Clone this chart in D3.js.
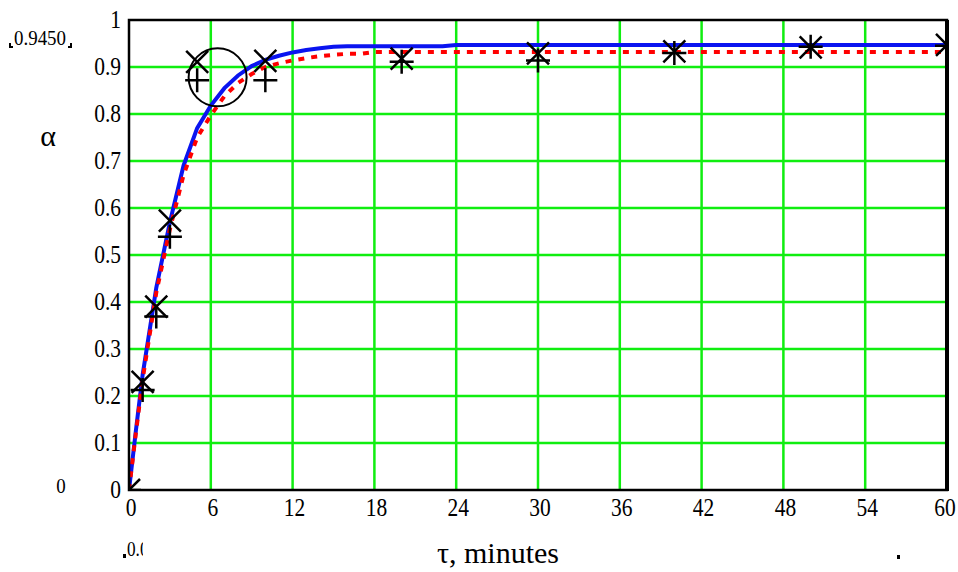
<!DOCTYPE html>
<html>
<head>
<meta charset="utf-8">
<script src="https://cdn.jsdelivr.net/npm/d3@7"></script>
<style>
  body { margin: 0; background: #fff; }
  svg { display: block; }
  text { font-family: "Liberation Serif", "DejaVu Serif", serif; fill: #000; }
</style>
</head>
<body>
<svg id="chart" width="958" height="572"></svg>
<script>
// tick labels
var tTicks = [0, 6, 12, 18, 24, 30, 36, 42, 48, 54, 60];
var alphaTicks = [0, 0.1, 0.2, 0.3, 0.4, 0.5, 0.6, 0.7, 0.8, 0.9, 1];

// calculated curves
var curveT     = [0, 0.5, 1, 2, 3, 4, 5, 6, 7, 8, 9, 10, 11, 12, 13, 14, 15, 16, 17, 18, 20, 22, 23, 24, 30, 40, 50, 60];
var curveBlue  = [0, 0.125, 0.245, 0.43, 0.57, 0.69, 0.77, 0.818, 0.855, 0.882, 0.902, 0.915, 0.924, 0.931, 0.936, 0.940, 0.943, 0.944, 0.944, 0.944, 0.944, 0.944, 0.944, 0.947, 0.947, 0.947, 0.947, 0.947];
var curveRed   = [0, 0.12, 0.235, 0.42, 0.555, 0.67, 0.75, 0.797, 0.838, 0.866, 0.885, 0.9, 0.908, 0.914, 0.919, 0.923, 0.926, 0.928, 0.928, 0.932, 0.932, 0.932, 0.932, 0.932, 0.932, 0.932, 0.932, 0.932];

// experimental points
var expT       = [0, 1, 2, 3, 5, 10, 20, 30, 40, 50, 60];
var expCross   = [0, 0.23, 0.39, 0.573, 0.911, 0.913, 0.918, 0.929, 0.933, 0.942, 0.947];
var expPlus    = [0, 0.213, 0.369, 0.539, 0.872, 0.872, 0.911, 0.914, 0.930, 0.943, 0.945];

// circled point
var circleT = [6.5];
var circleA = [0.878];

var svg = d3.select("#chart");
var x = d3.scaleLinear().domain([0, 60]).range([129, 947]);
var y = d3.scaleLinear().domain([0, 1]).range([490, 20]);

function label(txt, px, py, size, anchor, sx, parent) {
  return (parent || svg).append("text")
    .attr("transform", "translate(" + px + "," + py + ") scale(" + (sx || 0.86) + ",1)")
    .attr("text-anchor", anchor || "middle")
    .style("font-size", size + "px")
    .text(txt);
}

var defs = svg.append("defs");
defs.append("clipPath").attr("id", "plotclip")
  .append("rect").attr("x", 129).attr("y", 20).attr("width", 818).attr("height", 470);
defs.append("clipPath").attr("id", "lowclip")
  .append("rect").attr("x", 120).attr("y", 530).attr("width", 23).attr("height", 40);

// grid
var grid = svg.append("g");
grid.selectAll("line.v").data(tTicks.slice(1, -1)).enter().append("line")
  .attr("x1", function(d) { return x(d); }).attr("x2", function(d) { return x(d); })
  .attr("y1", y(0)).attr("y2", y(1))
  .attr("stroke", "#10ee10").attr("stroke-width", 2.5);
grid.selectAll("line.h").data(alphaTicks.slice(1, -1)).enter().append("line")
  .attr("y1", function(d) { return y(d); }).attr("y2", function(d) { return y(d); })
  .attr("x1", x(0)).attr("x2", x(60))
  .attr("stroke", "#10ee10").attr("stroke-width", 2.5);

var plot = svg.append("g").attr("clip-path", "url(#plotclip)");

var line = d3.line().x(function(d) { return x(d[0]); }).y(function(d) { return y(d[1]); });

plot.append("path")
  .attr("d", line(curveT.map(function(t, i) { return [t, curveBlue[i]]; })))
  .attr("fill", "none").attr("stroke", "#0a14f0").attr("stroke-width", 4);

plot.append("path")
  .attr("d", line(curveT.map(function(t, i) { return [t, curveRed[i]]; })))
  .attr("fill", "none").attr("stroke", "#ff0000").attr("stroke-width", 4)
  .attr("stroke-dasharray", "6,7");

// markers
var m = 11;
expT.forEach(function(t, i) {
  var cx = x(t), cy = y(expCross[i]);
  plot.append("path")
    .attr("d", "M" + (cx - m) + "," + (cy - m) + "L" + (cx + m) + "," + (cy + m) +
               "M" + (cx - m) + "," + (cy + m) + "L" + (cx + m) + "," + (cy - m))
    .attr("stroke", "#000").attr("stroke-width", 2.5).attr("fill", "none");
  var px = x(t), py = y(expPlus[i]);
  plot.append("path")
    .attr("d", "M" + (px - 12) + "," + py + "L" + (px + 12) + "," + py +
               "M" + px + "," + (py - 12) + "L" + px + "," + (py + 12))
    .attr("stroke", "#000").attr("stroke-width", 2.5).attr("fill", "none");
});

circleT.forEach(function(t, i) {
  plot.append("circle").attr("cx", x(t)).attr("cy", y(circleA[i])).attr("r", 29)
    .attr("fill", "none").attr("stroke", "#000").attr("stroke-width", 2);
});

// frame
svg.append("rect").attr("x", 129).attr("y", 20).attr("width", 818).attr("height", 470)
  .attr("fill", "none").attr("stroke", "#000").attr("stroke-width", 2.5);
svg.append("line").attr("x1", 947).attr("x2", 947).attr("y1", 20).attr("y2", 491)
  .attr("stroke", "#000").attr("stroke-width", 4);

// tick labels
tTicks.forEach(function(d) {
  label(d, Math.min(x(d) + 2, 945), 516, 25);
});
alphaTicks.forEach(function(d) {
  label(d, 121, y(d) + 8, 25, "end");
});

// titles
label("\u03b1", 48, 146, 30, "middle", 1);
svg.append("text").attr("x", 498).attr("y", 563).attr("text-anchor", "middle")
  .style("font-size", "30px").text("\u03c4, minutes");

// Mathcad limit markers
label("0.9450", 40, 45, 22, "middle");
svg.append("path").attr("d", "M10,43v4h3").attr("stroke", "#000").attr("stroke-width", 2).attr("fill", "none");
svg.append("path").attr("d", "M68,47h3v-4").attr("stroke", "#000").attr("stroke-width", 2).attr("fill", "none");
label("0", 61, 493, 22, "middle");
var low = svg.append("g").attr("clip-path", "url(#lowclip)");
label("0.0", 127, 556, 20, "start", 0.86, low);
svg.append("rect").attr("x", 123).attr("y", 554).attr("width", 3).attr("height", 4).attr("fill", "#000");
svg.append("rect").attr("x", 897).attr("y", 555).attr("width", 3).attr("height", 4).attr("fill", "#000");
</script>
</body>
</html>
